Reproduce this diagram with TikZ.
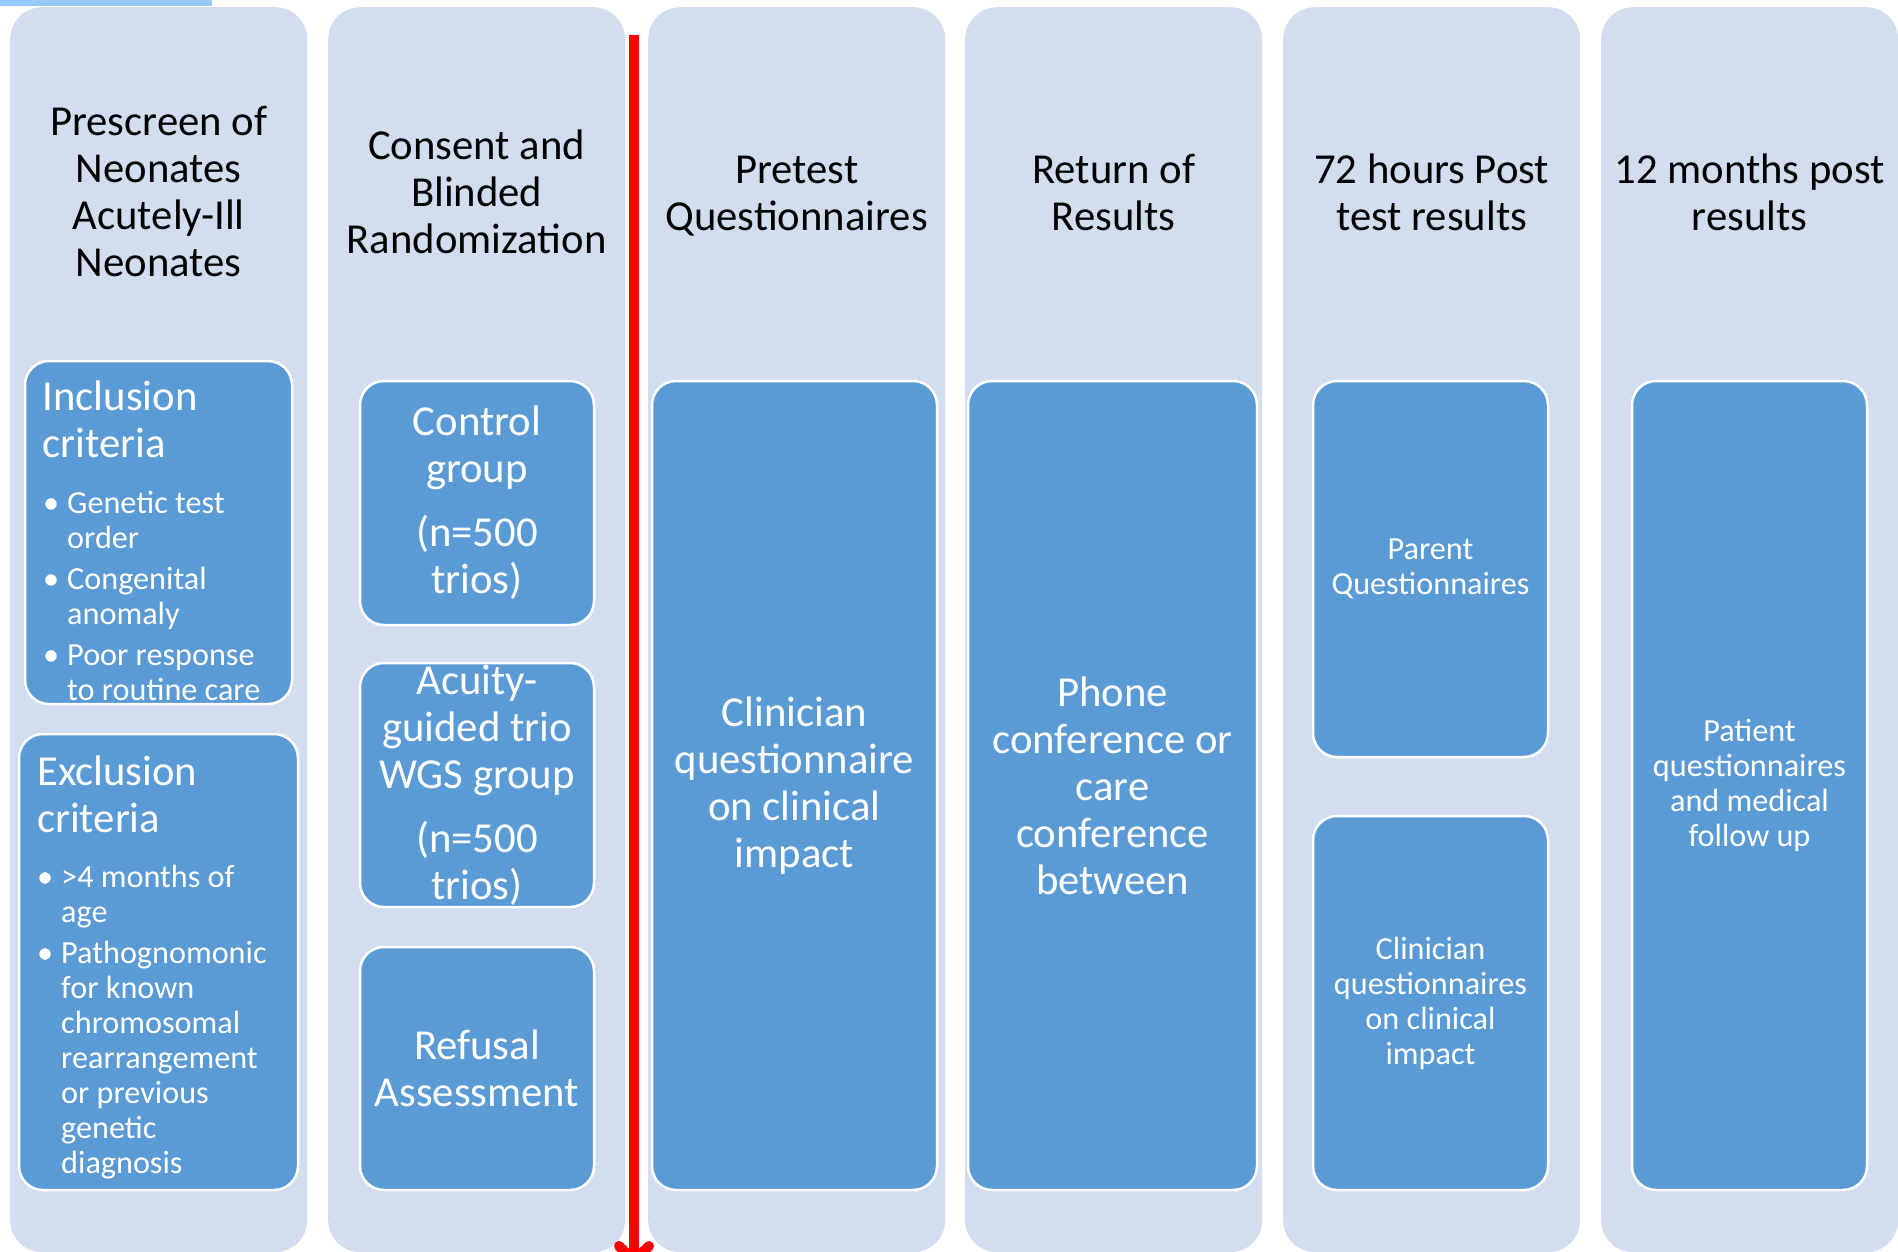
\documentclass[tikz,border=0pt]{standalone}
\usepackage{fontspec}
\setmainfont{Carlito}
\usetikzlibrary{arrows.meta,positioning}
\definecolor{lanebg}{RGB}{210,222,239}
\definecolor{stageblue}{RGB}{91,155,213}
\definecolor{tabblue}{RGB}{150,200,248}
\newcommand{\headfont}{\fontsize{42.7}{47}\selectfont}
\newcommand{\itemfont}{\fontsize{32.2}{35}\selectfont}

\begin{document}
\begin{tikzpicture}[
    x=1pt, y=-1pt,
    lane/.style={
        fill=lanebg,
        rounded corners=32pt,
        minimum width=297pt,
        minimum height=1245pt,
        inner sep=0pt,
        anchor=north west
    },
    header/.style={align=center, font=\headfont, text=black},
    stage/.style={
        draw=white,
        line width=2.5pt,
        fill=stageblue,
        rounded corners=24pt,
        inner sep=0pt,
        align=center,
        text=white,
        font=\headfont
    },
    smallstage/.style={stage, font=\itemfont},
    crittitle/.style={anchor=north west, inner sep=0pt, text=white, font=\headfont},
    critlist/.style={anchor=north west, inner sep=0pt, text=white, font=\itemfont},
    split/.style={-{Straight Barb[length=15pt, width=30pt, round]}, line width=10pt, red}
]
\useasboundingbox (0,0) rectangle (1898,1251);

% Tab edge left over at the top of the slide.
\fill[tabblue] (0,0) rectangle (212,6);

% Six phase lanes with their headings.
\foreach \i/\x in {1/10,2/328,3/648,4/965,5/1283,6/1601} {
    \node[lane] (lane\i) at (\x,7) {};
}
\node[header] (head1) at ([yshift=-185pt]lane1.north)
    {Prescreen of\\Neonates\\Acutely-Ill\\Neonates};
\node[header] (head2) at ([yshift=-185pt]lane2.north)
    {Consent and\\Blinded\\Randomization};
\node[header] (head3) at ([yshift=-189pt]lane3.north)
    {Pretest\\Questionnaires};
\node[header] (head4) at ([yshift=-186pt]lane4.north)
    {Return of\\Results};
\node[header] (head5) at ([yshift=-185pt]lane5.north)
    {72 hours Post\\test results};
\node[header] (head6) at ([yshift=-185pt]lane6.north)
    {12 months post\\results};

% Lane 1: inclusion and exclusion criteria.
\node[stage, minimum width=267pt, minimum height=343pt] (incl) at (158.5,532.5) {};
\node[crittitle] (incltitle) at (42.5,377)
    {\begin{tabular}{@{}l@{}}Inclusion\\criteria\end{tabular}};
\node[critlist] (incllist) at (43,488.5)
    {\begin{tabular}{@{}l@{\hspace{8pt}}l@{}}
        \textbullet & Genetic test\\
                    & order\\[6pt]
        \textbullet & Congenital\\
                    & anomaly\\[6pt]
        \textbullet & Poor response\\
                    & to routine care
    \end{tabular}};

\node[stage, minimum width=279pt, minimum height=456pt] (excl) at (158.5,962) {};
\node[crittitle] (excltitle) at (37,752)
    {\begin{tabular}{@{}l@{}}Exclusion\\criteria\end{tabular}};
\node[critlist] (excllist) at (37,863)
    {\begin{tabular}{@{}l@{\hspace{8pt}}l@{}}
        \textbullet & >4 months of\\
                    & age\\[6pt]
        \textbullet & Pathognomonic\\
                    & for known\\
                    & chromosomal\\
                    & rearrangement\\
                    & or previous\\
                    & genetic\\
                    & diagnosis
    \end{tabular}};

% Lane 2: randomization arms.
\node[stage, minimum width=234pt, minimum height=244pt] (control) at (477,503)
    {Control\\group\\[17pt](n=500\\trios)};
\node[stage, minimum width=234pt, minimum height=244pt] (wgs) at (477,785)
    {Acuity-\\guided trio\\WGS group\\[17pt](n=500\\trios)};
\node[stage, minimum width=234pt, minimum height=243pt] (refusal) at (477,1068.5)
    {Refusal\\Assessment};

% Lanes 3--6: questionnaires and follow up.
\node[stage, minimum width=285pt, minimum height=809pt] (pretest) at (794.5,785.5)
    {Clinician\\questionnaire\\on clinical\\impact};
\node[stage, minimum width=289pt, minimum height=809pt] (phone) at (1112.5,785.5)
    {Phone\\conference or\\care\\conference\\between};
\node[smallstage, minimum width=235pt, minimum height=376pt] (parent) at (1430.5,569)
    {Parent\\Questionnaires};
\node[smallstage, minimum width=235pt, minimum height=374pt] (clinq) at (1430.5,1003)
    {Clinician\\questionnaires\\on clinical\\impact};
\node[smallstage, minimum width=235pt, minimum height=809pt] (patient) at (1749.5,785.5)
    {Patient\\questionnaires\\and medical\\follow up};

% Red divider between randomization and the result phases.
\coordinate (splittop) at (634,35);
\coordinate (splitend) at (634,1266);
\draw[split] (splittop) -- (splitend);

\end{tikzpicture}
\end{document}
